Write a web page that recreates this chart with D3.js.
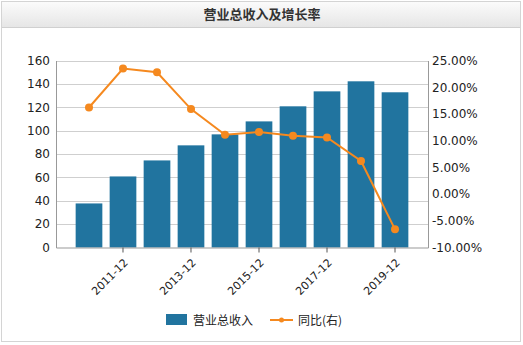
<!DOCTYPE html>
<html><head><meta charset="utf-8">
<script src="https://cdn.jsdelivr.net/npm/d3@7"></script>
<style>body{margin:0;background:#fff}svg{display:block}</style>
</head><body>
<svg id="c" width="523" height="345"></svg>
<script>
const categories = ["2010-12","2011-12","2012-12","2013-12","2014-12","2015-12","2016-12","2017-12","2018-12","2019-12"];
const revenue = [37.7, 60.8, 74.5, 87.4, 96.8, 107.9, 120.8, 133.6, 142.2, 132.8];
const growth = [16.2, 23.5, 22.8, 15.9, 11.1, 11.6, 10.9, 10.6, 6.2, -6.6];
const leftTicks = [0,20,40,60,80,100,120,140,160];
const rightTicks = [-10,-5,0,5,10,15,20,25];
const shownLabels = ["2011-12","2013-12","2015-12","2017-12","2019-12"];
const title = "营业总收入及增长率";
const legendNames = ["营业总收入","同比(右)"];

const svg = d3.select("#c");
const font = "'DejaVu Sans', Verdana, sans-serif";
const barColor = "#21749f", lineColor = "#f5891f";

// frame + title bar
const defs = svg.append("defs");
const g = defs.append("linearGradient").attr("id","tg").attr("x1",0).attr("y1",0).attr("x2",0).attr("y2",1);
g.append("stop").attr("offset","0%").attr("stop-color","#fbfbfb");
g.append("stop").attr("offset","100%").attr("stop-color","#e6e6e6");
svg.append("rect").attr("x",1.5).attr("y",1.5).attr("width",519).attr("height",340).attr("fill","#fff").attr("stroke","#d4d4d4");
svg.append("rect").attr("x",2).attr("y",2).attr("width",518).attr("height",25).attr("fill","url(#tg)");
svg.append("line").attr("x1",2).attr("x2",520).attr("y1",27.5).attr("y2",27.5).attr("stroke","#d0d0d0");
svg.append("text").attr("x",262).attr("y",19).attr("text-anchor","middle")
  .attr("font-family","'Noto Sans CJK SC', sans-serif").attr("font-size",13).attr("font-weight","bold").attr("fill","#333").text(title);

const L = 56, R = 428, T = 60.5, B = 247.5;
const x = d3.scaleBand().domain(categories).range([L,R]).paddingInner(0.215).paddingOuter(0.578);
const yL = d3.scaleLinear().domain([0,160]).range([B,T]);
const yR = d3.scaleLinear().domain([-10,25]).range([B,T]);

// grid
svg.append("g").selectAll("line").data(leftTicks.slice(1)).join("line")
  .attr("x1",L).attr("x2",R).attr("y1",d=>Math.round(yL(d))+0.5).attr("y2",d=>Math.round(yL(d))+0.5)
  .attr("stroke","#cfcfcf");

// bars
svg.append("g").selectAll("rect").data(revenue).join("rect")
  .attr("x",(d,i)=>x(categories[i])).attr("width",x.bandwidth())
  .attr("y",d=>yL(d)).attr("height",d=>yL(0)-yL(d)).attr("fill",barColor);

// axes
const axL = svg.append("g").attr("transform",`translate(${L},0)`)
  .call(d3.axisLeft(yL).tickValues(leftTicks).tickSize(0).tickPadding(6));
axL.select(".domain").attr("stroke","#999");
axL.selectAll("text").attr("font-family",font).attr("font-size",12).attr("fill","#222");

const axR = svg.append("g").attr("transform",`translate(${R},0)`)
  .call(d3.axisRight(yR).tickValues(rightTicks).tickSize(0).tickPadding(4).tickFormat(d=>d.toFixed(2)+"%"));
axR.select(".domain").attr("stroke","#999");
axR.selectAll("text").attr("font-family",font).attr("font-size",12).attr("fill","#222");

const axB = svg.append("g").attr("transform",`translate(0,${B})`)
  .call(d3.axisBottom(x).tickValues(shownLabels).tickSize(5).tickSizeOuter(0));
axB.select(".domain").attr("stroke","#999");
axB.selectAll(".tick line").attr("stroke","#555");
axB.selectAll("text").attr("font-family",font).attr("font-size",11).attr("fill","#222")
  .attr("x",0).attr("y",0).attr("dy","0.35em")
  .attr("text-anchor","end").attr("transform","translate(3,13) rotate(-45)");

// line
const line = d3.line().x((d,i)=>x(categories[i])+x.bandwidth()/2).y(d=>yR(d));
svg.append("path").datum(growth).attr("d",line).attr("fill","none").attr("stroke",lineColor).attr("stroke-width",2);
svg.append("g").selectAll("circle").data(growth).join("circle")
  .attr("cx",(d,i)=>x(categories[i])+x.bandwidth()/2).attr("cy",d=>yR(d)).attr("r",4).attr("fill",lineColor);

// legend
const lg = svg.append("g");
lg.append("rect").attr("x",166).attr("y",314).attr("width",21).attr("height",11).attr("fill",barColor);
lg.append("text").attr("x",193).attr("y",324.5).attr("font-family","'Noto Sans CJK SC', sans-serif").attr("font-size",12).attr("fill","#222").text(legendNames[0]);
lg.append("line").attr("x1",270).attr("x2",293).attr("y1",320).attr("y2",320).attr("stroke",lineColor).attr("stroke-width",2);
lg.append("circle").attr("cx",281.5).attr("cy",320).attr("r",2.5).attr("fill",lineColor);
lg.append("text").attr("x",298).attr("y",324.5).attr("font-family","'Noto Sans CJK SC', sans-serif").attr("font-size",12).attr("fill","#222").text(legendNames[1]);
</script>
</body></html>
